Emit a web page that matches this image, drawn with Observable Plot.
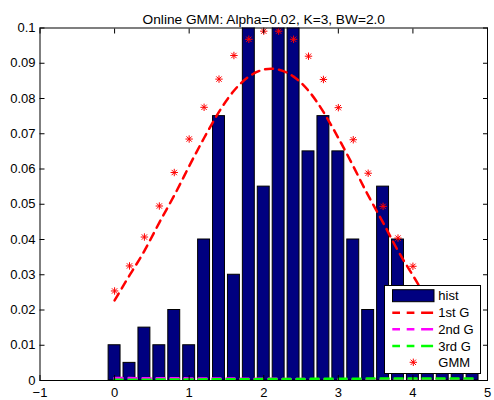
<!DOCTYPE html>
<html><head><meta charset="utf-8">
<script src="https://cdn.jsdelivr.net/npm/d3@7"></script>
<script src="https://cdn.jsdelivr.net/npm/@observablehq/plot@0.6"></script>
<style>
body{margin:0;background:#fff;font-family:"Liberation Sans",Arial,sans-serif}
#wrap{position:relative;width:494px;height:400px}
#legend{position:absolute;left:384px;top:285px}
</style></head><body><div id="wrap"></div>
<script>
const titleText = "Online GMM: Alpha=0.02, K=3, BW=2.0";
const xTicks = [-1, 0, 1, 2, 3, 4, 5];
const yTicks = [0, 0.01, 0.02, 0.03, 0.04, 0.05, 0.06, 0.07, 0.08, 0.09, 0.1];
const binCenters = [0,0.2,0.4,0.6,0.8,1.0,1.2,1.4,1.6,1.8,2.0,2.2,2.4,2.6,2.8,3.0,3.2,3.4,3.6,3.8,4.0,4.2,4.4,4.6,4.8];
const histValues = [0.01,0.005,0.015,0.01,0.02,0.01,0.04,0.075,0.03,0.115,0.055,0.12,0.105,0.065,0.075,0.065,0.04,0.02,0.055,0.04,0.01,0.005,0.005,0.005,0.005];
const curveX = [0,0.2,0.4,0.6,0.8,1.0,1.2,1.4,1.6,1.8,2.0,2.2,2.4,2.6,2.8,3.0,3.2,3.4,3.6,3.8,4.0,4.2];
const g1Values = [0.0227,0.0298,0.0368,0.0448,0.0525,0.0608,0.0688,0.0762,0.0822,0.0862,0.0882,0.0882,0.0862,0.0822,0.0762,0.0688,0.0608,0.0525,0.0448,0.0368,0.0298,0.0227];
const smallX = [0, 1, 2, 3, 4, 4.8];
const g2Values = [0.0007, 0.0006, 0.0005, 0.0003, 0.0001, 0.0001];
const g3Values = [0.0002, 0.0003, 0.0004, 0.0005, 0.0006, 0.0006];
const gmmValues = [0.0254,0.0325,0.0407,0.0495,0.059,0.0685,0.0775,0.0855,0.0922,0.0968,0.0991,0.0991,0.0968,0.092,0.0854,0.0774,0.0683,0.0588,0.0494,0.0404,0.0324,0.0254];

const NAVY = "#000080", FONT = "Liberation Sans, Arial, sans-serif", FS = 13;
const hist = binCenters.map((x, i) => ({x, v: histValues[i]}));
const g1 = curveX.map((x, i) => ({x, y: g1Values[i]}));
const g2 = smallX.map((x, i) => ({x, y: g2Values[i]}));
const g3 = smallX.map((x, i) => ({x, y: g3Values[i]}));
const gmm = curveX.map((x, i) => ({x, y: gmmValues[i]}));

const star = {draw(ctx, size) {
  const r = Math.sqrt(size / Math.PI), d = r * 0.72;
  ctx.moveTo(-r, 0); ctx.lineTo(r, 0);
  ctx.moveTo(0, -r); ctx.lineTo(0, r);
  ctx.moveTo(-d, -d); ctx.lineTo(d, d);
  ctx.moveTo(-d, d); ctx.lineTo(d, -d);
}};
const fmtY = d => String(+d.toFixed(2));
const fmtX = d => d < 0 ? "\u2212" + (-d) : String(d);

const chart = Plot.plot({
  width: 494, height: 400,
  marginLeft: 39.5, marginRight: 7, marginTop: 27.5, marginBottom: 20,
  style: {fontFamily: FONT, fontSize: FS + "px", color: "#000", background: "#fff"},
  x: {domain: [-1, 5], label: null},
  y: {domain: [0, 0.1], label: null},
  marks: [
    Plot.rect(hist, {x1: d => d.x - 0.08, x2: d => d.x + 0.08, y1: 0, y2: "v", fill: NAVY, stroke: "#000", strokeWidth: 1, clip: true}),
    Plot.line(g1, {x: "x", y: "y", stroke: "#ff0000", strokeWidth: 2.5, strokeDasharray: "8,6", curve: "natural", clip: true}),
    Plot.line(g2, {x: "x", y: "y", stroke: "#ff00ff", strokeWidth: 2.5, strokeDasharray: "8,6", clip: true}),
    Plot.line(g3, {x: "x", y: "y", stroke: "#00ff00", strokeWidth: 2.5, strokeDasharray: "8,6", clip: true}),
    Plot.dot(gmm, {x: "x", y: "y", symbol: star, r: 3.7, fill: "none", stroke: "#ff0000", strokeWidth: 1}),
    Plot.frame({stroke: "#000", strokeWidth: 1}),
    Plot.axisX({anchor: "bottom", ticks: xTicks, tickSize: -5, tickPadding: 12, tickFormat: fmtX, fontSize: FS, label: null}),
    Plot.axisX({anchor: "top", ticks: xTicks, tickSize: -5, tickFormat: () => "", label: null}),
    Plot.axisY({anchor: "left", ticks: yTicks, tickSize: -5, tickPadding: 9.5, tickFormat: fmtY, fontSize: FS, label: null}),
    Plot.axisY({anchor: "right", ticks: yTicks, tickSize: -5, tickFormat: () => "", label: null}),
    Plot.text([titleText], {frameAnchor: "top", dy: -14, fontSize: 13.7, fill: "#000"})
  ]
});
const wrap = document.getElementById("wrap");
wrap.appendChild(chart);

// legend overlay
const leg = document.createElement("div");
leg.id = "legend";
const rows = [["hist"], ["1st G", "#ff0000"], ["2nd G", "#ff00ff"], ["3rd G", "#00ff00"], ["GMM"]];
const ys = [10.7, 27.7, 44.3, 61, 77.3];
let s = `<svg width="98" height="90" xmlns="http://www.w3.org/2000/svg" style="display:block;font-family:${FONT};font-size:${FS}px">`;
s += `<rect x="0.5" y="0.5" width="96" height="88" fill="#fff" stroke="#000"/>`;
rows.forEach((r, i) => {
  const y = ys[i];
  if (i === 0) s += `<rect x="8.5" y="${y - 6}" width="41.5" height="12" fill="${NAVY}" stroke="#000"/>`;
  else if (i < 4) s += `<line x1="8.3" x2="49.3" y1="${y}" y2="${y}" stroke="${r[1]}" stroke-width="2.5" stroke-dasharray="7.7 6.7 7.7 6.7 12"/>`;
  else {
    const cx = 29.3, R = 3.7, D = R * 0.72;
    s += `<path d="M${cx - R},${y}H${cx + R}M${cx},${y - R}V${y + R}M${cx - D},${y - D}L${cx + D},${y + D}M${cx - D},${y + D}L${cx + D},${y - D}" stroke="#ff0000" fill="none"/>`;
  }
  s += `<text x="54.3" y="${y}" dy="0.36em" fill="#000">${r[0]}</text>`;
});
s += `</svg>`;
leg.innerHTML = s;
wrap.appendChild(leg);
</script></body></html>
